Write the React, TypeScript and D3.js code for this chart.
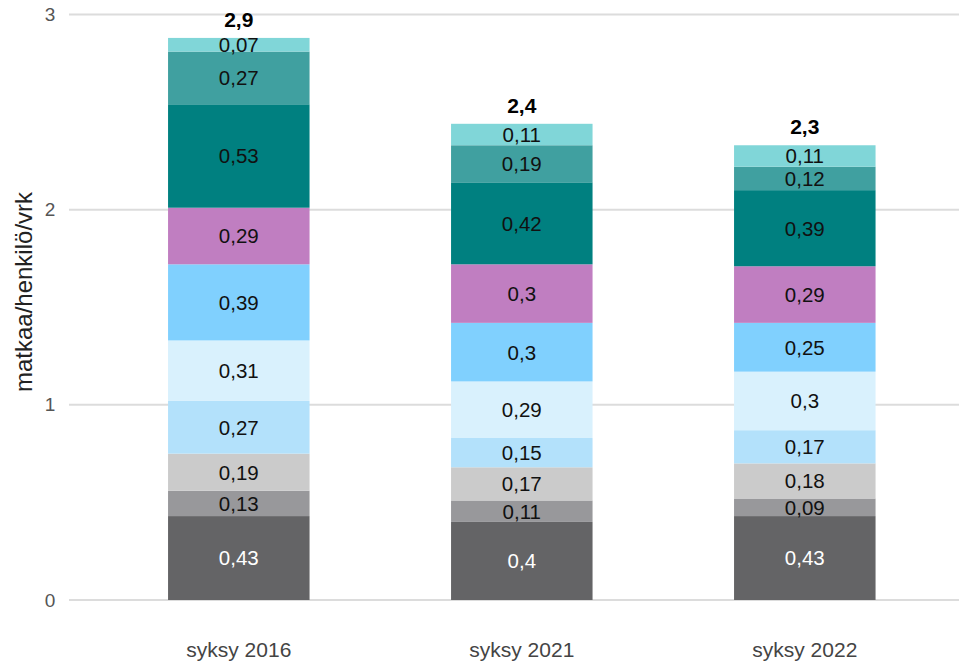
import React from 'react';
import * as d3 from 'd3';

const periods = ['syksy 2016', 'syksy 2021', 'syksy 2022'];

// segments from bottom to top
const seg1 = [0.43, 0.4, 0.43];
const seg2 = [0.13, 0.11, 0.09];
const seg3 = [0.19, 0.17, 0.18];
const seg4 = [0.27, 0.15, 0.17];
const seg5 = [0.31, 0.29, 0.3];
const seg6 = [0.39, 0.3, 0.25];
const seg7 = [0.29, 0.3, 0.29];
const seg8 = [0.53, 0.42, 0.39];
const seg9 = [0.27, 0.19, 0.12];
const seg10 = [0.07, 0.11, 0.11];

const totals = ['2,9', '2,4', '2,3'];
const yTicks = [0, 1, 2, 3];

const series = [seg1, seg2, seg3, seg4, seg5, seg6, seg7, seg8, seg9, seg10];
const colors = [
  '#646466', '#98989b', '#cbcbcb', '#b3e1fb', '#d9f1fd',
  '#80d0fe', '#c07ec1', '#008080', '#40a0a0', '#80d6d8',
];

const fmt = (v: number) => String(v).replace('.', ',');

const App: React.FC = () => {
  const width = 959;
  const height = 667;
  const left = 69;

  const x = d3.scaleBand<string>()
    .domain(periods)
    .range([left, 974.6])
    .paddingInner(0.5)
    .paddingOuter(0.35);

  const y = d3.scaleLinear().domain([0, 3]).range([600, 14.5]);

  const rows = periods.map((p, i) => {
    const r: any = { period: p };
    series.forEach((s, k) => (r['s' + k] = s[i]));
    return r;
  });
  const stack = d3.stack<any>().keys(series.map((_, k) => 's' + k));
  const stacked = stack(rows);

  return (
    <svg width={width} height={height} style={{ position: 'absolute', left: 0, top: 0 }}
      fontFamily="'Liberation Sans', Arial, sans-serif">
      {/* grid */}
      {yTicks.map(t => (
        <g key={t}>
          <line x1={left} x2={width} y1={y(t)} y2={y(t)} stroke="#dcdcdc" strokeWidth={2} />
          <text x={50} y={y(t)} dy="0.35em" textAnchor="middle" fontSize={19} fill="#555">{t}</text>
        </g>
      ))}
      <text transform={`translate(32,292) rotate(-90)`} textAnchor="middle"
        fontSize={24} fill="#222">matkaa/henkilö/vrk</text>

      {/* bars */}
      {stacked.map((layer, k) => (
        <g key={k}>
          {layer.map((d, i) => {
            const x0 = x(periods[i]) || 0;
            const yTop = y(d[1]);
            const yBot = y(d[0]);
            return (
              <g key={i}>
                <rect x={x0} y={yTop} width={x.bandwidth()} height={yBot - yTop} fill={colors[k]} />
                <text x={x0 + x.bandwidth() / 2} y={(yTop + yBot) / 2} dy="0.36em"
                  textAnchor="middle" fontSize={20.5}
                  fill={k === 0 ? '#fff' : '#111'}>{fmt(series[k][i])}</text>
              </g>
            );
          })}
        </g>
      ))}

      {/* totals */}
      {periods.map((p, i) => {
        const top = stacked[stacked.length - 1][i][1];
        return (
          <text key={p} x={(x(p) || 0) + x.bandwidth() / 2} y={y(top) - 11}
            textAnchor="middle" fontSize={21} fontWeight="bold" fill="#000">{totals[i]}</text>
        );
      })}

      {/* x labels */}
      {periods.map(p => (
        <text key={p} x={(x(p) || 0) + x.bandwidth() / 2} y={657} textAnchor="middle"
          fontSize={21} fill="#444">{p}</text>
      ))}
    </svg>
  );
};

export default App;
